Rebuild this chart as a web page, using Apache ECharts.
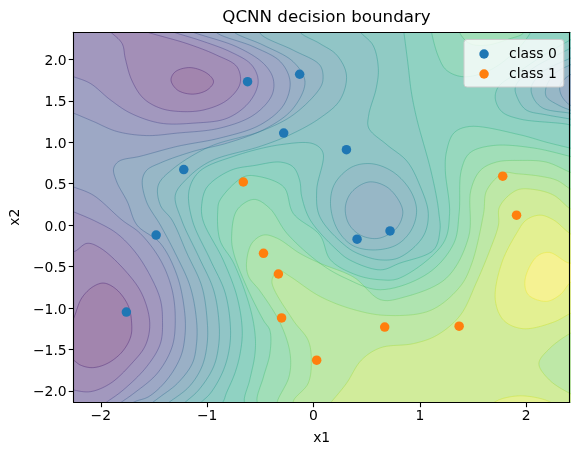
<!DOCTYPE html>
<html>
<head>
<meta charset="utf-8">
<style>html,body{margin:0;padding:0;background:#fff}#c{width:578px;height:455px}</style>
<script src="https://cdn.jsdelivr.net/npm/echarts@6/dist/echarts.min.js"></script>
</head>
<body>
<div id="c"></div>
<script>
// ---- axis data
const xTicks = [-2, -1, 0, 1, 2];
const yTicks = [-2, -1.5, -1, -0.5, 0, 0.5, 1, 1.5, 2];
const xRange = [-2.256, 2.41];
const yRange = [-2.138, 2.326];

// ---- points
const class0 = [[-0.62,1.73],[-0.13,1.82],[-0.28,1.11],[-1.22,0.67],[0.31,0.91],[-1.48,-0.12],[-1.76,-1.05],[0.41,-0.17],[0.72,-0.07]];
const class1 = [[-0.66,0.52],[-0.47,-0.34],[-0.33,-0.59],[-0.30,-1.12],[0.03,-1.63],[0.67,-1.23],[1.37,-1.22],[1.78,0.59],[1.91,0.12]];

// ---- contour lines (data coordinates)
const l2Upper = [[-1.34,1.75],[-1.30,1.85],[-1.16,1.90],[-1.00,1.83],[-0.94,1.73],[-1.00,1.63],[-1.14,1.58],[-1.28,1.63]];
const l2Lower = [[-2.34,-1.35],[-2.256,-1.125],[-2.18,-0.88],[-2.07,-0.74],[-1.97,-0.70],[-1.85,-0.78],[-1.74,-0.98],[-1.71,-1.19],[-1.72,-1.35],[-1.80,-1.53],[-1.94,-1.67],[-2.08,-1.72],[-2.19,-1.69],[-2.256,-1.63],[-2.34,-1.56]];
const l3Upper = [[-2.0,2.42],[-1.91,2.33],[-1.80,2.19],[-1.77,2.01],[-1.71,1.75],[-1.60,1.53],[-1.44,1.41],[-1.25,1.37],[-1.03,1.39],[-0.81,1.51],[-0.69,1.71],[-0.72,1.91],[-0.91,2.05],[-1.19,2.19],[-1.57,2.33],[-1.75,2.41]];
const l3Lower = [[-2.34,-0.28],[-2.256,-0.32],[-2.13,-0.22],[-2.0,-0.28],[-1.75,-0.58],[-1.61,-0.84],[-1.54,-1.18],[-1.58,-1.45],[-1.71,-1.67],[-1.91,-1.91],[-2.10,-2.01],[-2.256,-1.99],[-2.34,-1.96]];
const l4Upper = [[-2.34,1.83],[-2.256,1.79],[-2.10,1.71],[-1.91,1.51],[-1.72,1.35],[-1.44,1.23],[-1.13,1.23],[-0.81,1.29],[-0.60,1.49],[-0.52,1.73],[-0.58,1.93],[-0.78,2.09],[-1.07,2.23],[-1.32,2.33],[-1.5,2.42]];
const l4Lower = [[-2.34,0.2],[-2.256,0.16],[-2.04,0.04],[-1.85,-0.10],[-1.68,-0.32],[-1.54,-0.60],[-1.44,-0.90],[-1.42,-1.15],[-1.44,-1.43],[-1.57,-1.71],[-1.79,-1.99],[-1.94,-2.13],[-2.05,-2.22]];
const l5Upper = [[-2.34,1.39],[-2.256,1.35],[-2.07,1.25],[-1.85,1.13],[-1.57,1.08],[-1.28,1.11],[-0.88,1.17],[-0.56,1.33],[-0.39,1.57],[-0.38,1.77],[-0.47,1.95],[-0.72,2.15],[-1.14,2.33],[-1.3,2.42]];
const l5Lower = [[-2.34,0.5],[-2.256,0.46],[-2.07,0.36],[-1.80,0.06],[-1.63,-0.10],[-1.44,-0.42],[-1.33,-0.78],[-1.30,-1.15],[-1.33,-1.47],[-1.47,-1.79],[-1.69,-2.03],[-1.80,-2.13],[-1.9,-2.22]];
const l6 = [[-0.95,2.42],[-0.92,2.33],[-0.56,2.15],[-0.31,1.97],[-0.22,1.73],[-0.28,1.45],[-0.50,1.21],[-0.88,1.05],[-1.28,0.95],[-1.63,0.83],[-1.83,0.77],[-1.88,0.68],[-1.85,0.52],[-1.75,0.28],[-1.66,0],[-1.44,-0.22],[-1.28,-0.62],[-1.21,-1.07],[-1.21,-1.35],[-1.25,-1.59],[-1.38,-1.87],[-1.55,-2.07],[-1.68,-2.13],[-1.8,-2.22]];
const l7 = [[-0.8,2.42],[-0.75,2.33],[-0.47,2.17],[-0.19,1.97],[-0.08,1.73],[-0.19,1.41],[-0.44,1.17],[-0.81,0.99],[-1.13,0.89],[-1.44,0.75],[-1.57,0.66],[-1.61,0.54],[-1.57,0.28],[-1.44,0],[-1.30,-0.34],[-1.16,-0.74],[-1.10,-1.15],[-1.10,-1.43],[-1.14,-1.67],[-1.28,-1.91],[-1.44,-2.07],[-1.6,-2.22]];
const l8 = [[-0.52,2.42],[-0.50,2.31],[-0.19,2.11],[0.06,1.93],[0.09,1.77],[0.06,1.65],[-0.19,1.33],[-0.50,1.13],[-0.97,0.95],[-1.32,0.68],[-1.46,0.48],[-1.44,0.24],[-1.33,0.06],[-1.19,-0.34],[-1.05,-0.74],[-1.0,-1.15],[-1.0,-1.43],[-1.05,-1.71],[-1.17,-1.95],[-1.35,-2.13],[-1.45,-2.22]];
const l9 = [[-0.15,2.42],[-0.13,2.33],[0.06,2.19],[0.22,2.05],[0.31,1.81],[0.25,1.51],[0.06,1.29],[-0.22,1.09],[-0.50,0.95],[-0.97,0.77],[-1.19,0.56],[-1.30,0.36],[-1.24,0.06],[-1.08,-0.38],[-0.94,-0.78],[-0.89,-1.15],[-0.89,-1.43],[-0.94,-1.71],[-1.08,-1.99],[-1.20,-2.13],[-1.28,-2.22]];
const l10 = [[0.40,2.42],[0.44,2.33],[0.56,2.17],[0.61,1.89],[0.59,1.65],[0.52,1.33],[0.52,1.17],[0.69,0.97],[0.88,0.77],[1.0,0.48],[1.08,0.14],[1.03,-0.14],[0.81,-0.39],[0.63,-0.42],[0.45,-0.36],[0.31,-0.26],[0.06,0.10],[0.03,0.42],[0.09,0.87],[0,0.98],[-0.31,0.97],[-0.75,0.83],[-1.07,0.65],[-1.17,0.42],[-1.14,0.06],[-0.97,-0.42],[-0.83,-0.82],[-0.78,-1.27],[-0.80,-1.55],[-0.86,-1.79],[-0.97,-2.03],[-1.05,-2.13],[-1.12,-2.22]];
const l11 = [[0.84,2.42],[0.85,2.33],[0.89,1.93],[0.92,1.61],[0.97,1.29],[1.10,0.68],[1.16,0.32],[1.18,0.14],[1.19,-0.06],[1.13,-0.30],[0.81,-0.46],[0.63,-0.54],[0.34,-0.42],[0.22,-0.30],[-0.03,0.06],[-0.11,0.34],[-0.13,0.54],[-0.19,0.70],[-0.31,0.76],[-0.55,0.72],[-0.78,0.66],[-1.0,0.46],[-1.05,0.26],[-1.04,0.06],[-0.85,-0.42],[-0.72,-0.86],[-0.67,-1.27],[-0.69,-1.55],[-0.74,-1.79],[-0.82,-2.03],[-0.85,-2.13],[-0.92,-2.22]];
const l12 = [[-0.60,-2.22],[-0.65,-2.13],[-0.60,-1.87],[-0.55,-1.55],[-0.55,-1.31],[-0.60,-0.98],[-0.75,-0.46],[-0.88,-0.18],[-0.90,0.18],[-0.88,0.30],[-0.66,0.58],[-0.53,0.59],[-0.28,0.46],[-0.19,0.14],[0.06,-0.12],[0.16,-0.42],[0.40,-0.60],[0.63,-0.66],[0.81,-0.64],[1.22,-0.22],[1.28,0.14],[1.24,0.66],[1.25,0.88],[1.32,1.11],[1.47,1.19],[1.94,1.09],[2.19,1.0],[2.41,0.93],[2.5,0.9]];
const l13 = [[-0.47,-2.22],[-0.53,-2.13],[-0.47,-1.83],[-0.41,-1.55],[-0.41,-1.27],[-0.47,-1.15],[-0.63,-0.74],[-0.75,-0.34],[-0.77,-0.14],[-0.72,0.18],[-0.56,0.31],[-0.41,0.20],[-0.25,-0.10],[0.06,-0.46],[0.30,-0.64],[0.63,-0.78],[1.08,-0.58],[1.32,-0.22],[1.37,0.14],[1.39,0.66],[1.47,0.87],[1.69,0.96],[2.07,0.93],[2.41,0.83],[2.5,0.8]];
const l14 = [[-0.34,-2.22],[-0.34,-2.13],[-0.23,-1.83],[-0.22,-1.55],[-0.31,-1.19],[-0.50,-0.80],[-0.61,-0.62],[-0.63,-0.46],[-0.58,-0.22],[-0.47,-0.12],[-0.34,-0.16],[-0.13,-0.34],[0.06,-0.46],[0.38,-0.63],[0.63,-0.90],[0.85,-0.87],[1.25,-0.64],[1.46,-0.14],[1.48,0.42],[1.57,0.66],[1.72,0.76],[1.94,0.78],[2.19,0.76],[2.41,0.64],[2.5,0.6]];
const l15 = [[-0.15,-2.22],[-0.19,-2.13],[-0.05,-1.91],[-0.02,-1.63],[-0.05,-1.39],[-0.19,-1.15],[-0.39,-0.70],[-0.37,-0.60],[-0.32,-0.55],[-0.22,-0.62],[0.06,-0.86],[0.38,-1.02],[0.69,-1.09],[1.1,-1.03],[1.38,-0.74],[1.49,-0.46],[1.60,0.14],[1.63,0.42],[1.79,0.63],[1.91,0.62],[2.13,0.59],[2.29,0.54],[2.41,0.44],[2.5,0.38]];
const l16 = [[0.11,-2.22],[0.17,-2.13],[0.31,-1.91],[0.45,-1.63],[0.63,-1.48],[0.94,-1.43],[1.16,-1.33],[1.38,-1.09],[1.53,-0.70],[1.66,-0.30],[1.74,0],[1.75,0.22],[1.91,0.42],[2.07,0.43],[2.26,0.36],[2.41,0.20],[2.5,0.14]];
const l16Pocket = [[2.5,-1.26],[2.41,-1.31],[2.22,-1.49],[2.12,-1.67],[2.22,-1.87],[2.41,-2.03],[2.5,-2.08]];
const l17 = [[2.5,-1.02],[2.41,-1.07],[2.26,-1.17],[1.97,-1.25],[1.79,-1.15],[1.71,-0.90],[1.77,-0.46],[1.91,-0.10],[2.0,0.06],[2.13,0.12],[2.26,0.06],[2.39,-0.08],[2.5,-0.18]];
const l17Bottom = [[1.65,-2.22],[1.71,-2.13],[1.94,-2.06],[2.22,-2.13],[2.3,-2.22]];
const l18 = [[2.5,-0.42],[2.41,-0.46],[2.22,-0.33],[2.1,-0.38],[1.99,-0.66],[2.02,-0.84],[2.19,-0.92],[2.32,-0.84],[2.41,-0.70],[2.5,-0.62]];
const l12Top = [[1.10,2.42],[1.11,2.33],[1.17,2.05],[1.25,1.87],[1.41,1.79],[1.66,1.87],[1.91,2.11],[2.04,2.32],[2.07,2.42]];
const l13Top = [[1.36,2.42],[1.38,2.31],[1.47,2.19],[1.63,2.17],[1.85,2.25],[1.97,2.31],[2.02,2.42]];
const l11Right = [[2.5,1.16],[2.41,1.21],[1.94,1.28],[1.77,1.37],[1.71,1.53],[1.74,1.67],[1.91,1.83],[2.19,2.07],[2.41,2.23],[2.5,2.3]];
const l10Right = [[2.5,1.25],[2.41,1.28],[2.19,1.33],[2.0,1.39],[1.92,1.53],[1.90,1.67],[2.04,1.87],[2.41,2.13],[2.5,2.2]];
const l9Right = [[2.5,1.32],[2.41,1.35],[2.16,1.41],[2.07,1.53],[2.05,1.67],[2.16,1.85],[2.41,2.01],[2.5,2.06]];
const l8Right = [[2.5,1.36],[2.41,1.39],[2.30,1.45],[2.19,1.55],[2.19,1.67],[2.27,1.83],[2.41,1.93],[2.5,1.98]];
const l7Right = [[2.5,1.42],[2.41,1.45],[2.33,1.57],[2.32,1.69],[2.41,1.81],[2.5,1.85]];
const l9Loop = [[0.16,0.26],[0.20,0.50],[0.36,0.70],[0.55,0.74],[0.75,0.64],[0.91,0.42],[0.97,0.18],[0.92,-0.06],[0.78,-0.24],[0.56,-0.30],[0.36,-0.24],[0.22,-0.04]];
const l8Loop = [[0.30,0.22],[0.36,0.40],[0.52,0.52],[0.69,0.46],[0.81,0.28],[0.84,0.14],[0.78,-0.04],[0.61,-0.16],[0.44,-0.12],[0.33,0.02]];

// ---- painting order: [points, contour level, band painted inside, extra closing points, closed loop]
const TL = [-2.34, 2.42], BL = [-2.34, -2.22], BR = [2.5, -2.22];
const contours = [
  [l11,11,10,[BL,TL]], [l11Right,11,10],
  [l10,10,9,[BL,TL]], [l10Right,10,9],
  [l9,9,8,[BL,TL]], [l9Loop,9,8,null,true], [l9Right,9,8],
  [l8,8,7,[BL,TL]], [l8Loop,8,7,null,true], [l8Right,8,7],
  [l7,7,6,[BL,TL]], [l7Right,7,6],
  [l6,6,5,[BL,TL]],
  [l5Upper,5,4,[TL]], [l5Lower,5,4,[BL]],
  [l4Upper,4,3,[TL]], [l4Lower,4,3,[BL]],
  [l3Upper,3,2], [l3Lower,3,2],
  [l2Upper,2,1,null,true], [l2Lower,2,1],
  [l12,12,12,[BR]], [l12Top,12,12],
  [l13,13,13,[BR]], [l13Top,13,13],
  [l14,14,14,[BR]],
  [l15,15,15,[BR]],
  [l16,16,16,[BR]], [l16Pocket,16,15],
  [l17,17,17], [l17Bottom,17,17],
  [l18,18,18]
];
const baseBand = 11;
const bandCount = 18;

// ---- colour map
const viridisStops = ['#440154','#482475','#414487','#355f8d','#2a788e','#21918c','#22a884','#44bf70','#7ad151','#bddf26','#fde725'];
function viridis(t){
  const p = Math.max(0,Math.min(1,t))*10, i = Math.min(9,Math.floor(p)), f = p-i;
  const h = s => [1,3,5].map(k=>parseInt(s.substr(k,2),16));
  const a = h(viridisStops[i]), b = h(viridisStops[i+1]);
  return a.map((v,k)=>v+(b[k]-v)*f);
}
const bandColor = b => { const c = viridis((b-0.5)/bandCount).map(v=>Math.round(v*0.5+127.5)); return `rgb(${c})`; };
const lineColor = L => { const c = viridis((L-0.5)/bandCount).map(Math.round); return `rgba(${c},0.5)`; };

// ---- path smoothing (centripetal Catmull-Rom through the traced points)
function curve(pts, closed){
  const n = pts.length, out = [];
  const at = i => closed ? pts[(i+n)%n] : pts[Math.max(0,Math.min(n-1,i))];
  const last = closed ? n : n-1;
  const lerp = (a,b,ta,tb,t) => tb===ta ? a : [a[0]+(b[0]-a[0])*(t-ta)/(tb-ta), a[1]+(b[1]-a[1])*(t-ta)/(tb-ta)];
  for(let i=0;i<last;i++){
    const p0=at(i-1),p1=at(i),p2=at(i+1),p3=at(i+2);
    const d=(a,b)=>Math.max(1e-3,Math.pow(Math.hypot(a[0]-b[0],a[1]-b[1]),0.5));
    const t0=0,t1=t0+d(p0,p1),t2=t1+d(p1,p2),t3=t2+d(p2,p3);
    for(let s=0;s<10;s++){
      const t=t1+(t2-t1)*s/10;
      const a1=lerp(p0,p1,t0,t1,t),a2=lerp(p1,p2,t1,t2,t),a3=lerp(p2,p3,t2,t3,t);
      const b1=lerp(a1,a2,t0,t2,t),b2=lerp(a2,a3,t1,t3,t);
      out.push(lerp(b1,b2,t1,t2,t));
    }
  }
  if(!closed) out.push(pts[n-1]);
  return out;
}

const minusFix = s => String(s).replace('-', '\u2212');
const font = 'DejaVu Sans';
const fontSize = 13.9;
const hiddenAxis = pos => ({type:'value',position:pos,axisLine:{show:true,onZero:false,lineStyle:{color:'#000',width:1.1}},axisTick:{show:false},axisLabel:{show:false},splitLine:{show:false},z:5});

const chart = echarts.init(document.getElementById('c'), null, {renderer:'canvas'});
chart.setOption({
  animation:false,
  backgroundColor:'#fff',
  title:{text:'QCNN decision boundary',left:321.5,top:4.5,textAlign:'center',textStyle:{fontFamily:font,fontSize:16.67,fontWeight:'normal',color:'#000'}},
  grid:{left:73.3,right:8.3,top:32.3,bottom:52.7,containLabel:false},
  xAxis:[{
    type:'value',min:xRange[0],max:xRange[1],position:'bottom',
    name:'x1',nameLocation:'middle',nameGap:29,nameTextStyle:{fontFamily:font,fontSize:fontSize,color:'#000'},
    axisLine:{show:true,onZero:false,lineStyle:{color:'#000',width:1.1}},
    axisTick:{show:true,length:4.9,lineStyle:{color:'#000',width:1.1},customValues:xTicks},
    axisLabel:{color:'#000',fontFamily:font,fontSize:fontSize,margin:7,customValues:xTicks,formatter:v=>minusFix(v)},
    splitLine:{show:false},z:5
  },Object.assign(hiddenAxis('top'),{min:xRange[0],max:xRange[1]})],
  yAxis:[{
    type:'value',min:yRange[0],max:yRange[1],position:'left',
    name:'x2',nameLocation:'middle',nameGap:49,nameTextStyle:{fontFamily:font,fontSize:fontSize,color:'#000'},
    axisLine:{show:true,onZero:false,lineStyle:{color:'#000',width:1.1}},
    axisTick:{show:true,length:4.9,lineStyle:{color:'#000',width:1.1},customValues:yTicks},
    axisLabel:{color:'#000',fontFamily:font,fontSize:fontSize,margin:7,customValues:yTicks,
      formatter:v=>'{t|'+minusFix(v.toFixed(1))+'}',
      rich:{t:{fontFamily:font,fontSize:fontSize,color:'#000',padding:[4,0,0,0]}}},
    splitLine:{show:false},z:5
  },Object.assign(hiddenAxis('right'),{min:yRange[0],max:yRange[1]})],
  legend:{
    data:[{name:'class 0',icon:'circle'},{name:'class 1',icon:'circle'}],
    orient:'vertical',left:464,top:39.5,itemWidth:40,itemHeight:9.5,itemGap:6,
    padding:[7.5,7,6,15.3],backgroundColor:'rgba(255,255,255,0.8)',borderColor:'#ccc',borderWidth:1,borderRadius:3,
    selectedMode:false,z:10,
    textStyle:{fontFamily:font,fontSize:fontSize,color:'#000'}
  },
  series:[
    {
      type:'custom',name:'bands',coordinateSystem:'cartesian2d',clip:true,silent:true,z:2,
      data:[[0,0]].concat(contours.map((c,i)=>[i,0])),
      renderItem:(params,api)=>{
        if(params.dataIndex===0){
          const pts=[[xRange[0]-1,yRange[0]-1],[xRange[1]+1,yRange[0]-1],[xRange[1]+1,yRange[1]+1],[xRange[0]-1,yRange[1]+1]].map(p=>api.coord(p));
          return {type:'polygon',shape:{points:pts},style:{fill:bandColor(baseBand)}};
        }
        const c=contours[params.dataIndex-1];
        const pts=curve(c[0].map(p=>api.coord(p)),!!c[4]);
        (c[3]||[]).forEach(p=>pts.push(api.coord(p)));
        return {type:'polygon',shape:{points:pts},style:{fill:bandColor(c[2])}};
      }
    },
    {
      type:'custom',name:'lines',coordinateSystem:'cartesian2d',clip:true,silent:true,z:3,
      data:contours.map((c,i)=>[i,0]),
      renderItem:(params,api)=>{
        const c=contours[params.dataIndex];
        const pts=curve(c[0].map(p=>api.coord(p)),!!c[4]);
        if(c[4]) pts.push(pts[0]);
        return {type:'polyline',shape:{points:pts},style:{fill:null,stroke:lineColor(c[1]),lineWidth:0.8}};
      }
    },
    {type:'scatter',name:'class 0',data:class0,symbolSize:9.5,itemStyle:{color:'#1f77b4',opacity:1},z:6},
    {type:'scatter',name:'class 1',data:class1,symbolSize:9.5,itemStyle:{color:'#ff7f0e',opacity:1},z:6}
  ]
});
</script>
</body>
</html>
